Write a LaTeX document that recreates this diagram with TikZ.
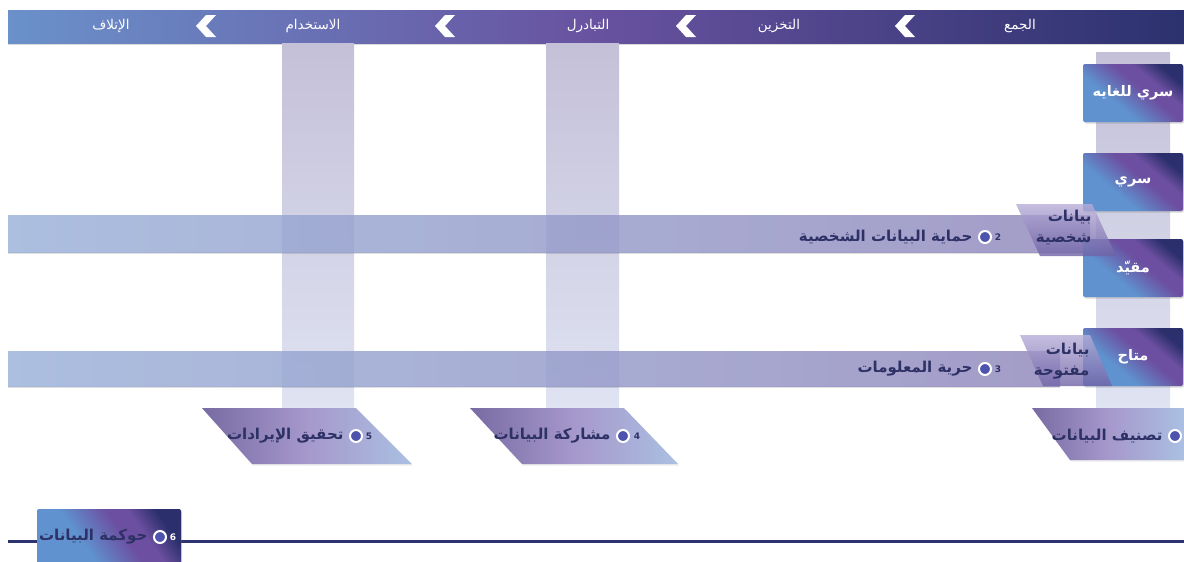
\documentclass[tikz,border=0pt]{standalone}
\usepackage{fontspec}
\newfontfamily\arabicfont[Script=Arabic]{DejaVu Sans}
\newfontfamily\numfont{DejaVu Sans}
\TeXXeTstate=1
\usetikzlibrary{shadows}
\definecolor{navy}{HTML}{2D3270}
\definecolor{txtnavy}{HTML}{2E3166}
\definecolor{barblue}{HTML}{6A91CA}
\definecolor{barpurple}{HTML}{6852A0}
\definecolor{barnavy}{HTML}{2C326E}
\definecolor{bxblue}{HTML}{5F92CE}
\definecolor{bxpurple}{HTML}{6C4FA0}
\definecolor{bxnavy}{HTML}{2B2F6C}
\definecolor{vtop}{HTML}{C4C0D8}
\definecolor{vbot}{HTML}{DFE3F2}
\definecolor{hleft}{HTML}{98AFD8}
\definecolor{hright}{HTML}{8D84BA}
\definecolor{pdark}{HTML}{776BA3}
\definecolor{pmid}{HTML}{A698CB}
\definecolor{plight}{HTML}{AAC0E2}
\definecolor{dotfill}{HTML}{4E54AE}
\definecolor{bdtop}{HTML}{B7AED8}
\definecolor{bdbot}{HTML}{6F62A6}
\pgfdeclarehorizontalshading{barshade}{100bp}{color(0bp)=(barblue); color(25bp)=(barblue); color(50bp)=(barpurple); color(75bp)=(barnavy); color(100bp)=(barnavy)}
\pgfdeclarehorizontalshading{boxshade}{100bp}{color(0bp)=(bxblue); color(25bp)=(bxblue); color(38bp)=(bxblue); color(56bp)=(bxpurple); color(64bp)=(bxpurple); color(75bp)=(bxnavy); color(100bp)=(bxnavy)}
\pgfdeclarehorizontalshading{parashade}{100bp}{color(0bp)=(pdark); color(25bp)=(pdark); color(50bp)=(pmid); color(75bp)=(plight); color(100bp)=(plight)}
\tikzset{
  bartext/.style={text=white, font=\arabicfont\fontsize{13.5}{15}\selectfont},
  chev/.style={fill=white, draw=none},
  vband/.style={top color=vtop, bottom color=vbot, draw=none},
  hband/.style={left color=hleft, right color=hright, draw=none, fill opacity=0.8},
  levelbox/.style={shading=boxshade, shading angle=50, rounded corners=2pt, minimum width=100pt, minimum height=58pt, text=white, font=\arabicfont\bfseries\fontsize{14.5}{16}\selectfont, drop shadow={opacity=0.3, shadow xshift=1pt, shadow yshift=-1.5pt}},
  para/.style={shading=parashade, draw=none, drop shadow={opacity=0.15, shadow xshift=1pt, shadow yshift=-1.5pt}},
  dpara/.style={top color=bdtop, bottom color=bdbot, draw=none, fill opacity=0.8},
  label/.style={text=txtnavy, font=\arabicfont\bfseries\fontsize{15}{17}\selectfont},
  dtext/.style={text=txtnavy, font=\arabicfont\bfseries\fontsize{15}{21}\selectfont, align=right},
  dot/.style={circle, draw=white, line width=2pt, fill=dotfill, minimum size=12pt, inner sep=0pt},
  num/.style={text=txtnavy, font=\numfont\bfseries\fontsize{9}{10}\selectfont, inner sep=0pt}
}
\begin{document}
\begin{tikzpicture}[x=1pt,y=-1pt]
\useasboundingbox[fill=white] (0,0) rectangle (1184,562);
% top bar
\fill[black,opacity=0.15] (8,43) rectangle (1184,45);
\path[shading=barshade] (8,10) rectangle (1184,43);
\node[bartext] (t1) at (1020,26) {\beginR الجمع\endR};
\node[bartext] (t2) at (779,26) {\beginR التخزين\endR};
\node[bartext] (t3) at (588,26) {\beginR التبادرل\endR};
\node[bartext] (t4) at (313,26) {\beginR الاستخدام\endR};
\node[bartext] (t5) at (111,26) {\beginR الإتلاف\endR};
\foreach \cx in {203,442,683,902}{
  \fill[chev] (\cx+3,15) -- (\cx+13,15) -- (\cx+3,26) -- (\cx+13,37) -- (\cx+3,37) -- (\cx-7,26) -- cycle;
}
% vertical bands
\path[vband] (282,43) rectangle (354,408);
\path[vband] (546,43) rectangle (619,408);
\path[vband] (1096,52) rectangle (1170,408);
% horizontal bands
\fill[black,opacity=0.12] (8,252) rectangle (1090,254);
\fill[black,opacity=0.12] (8,386) rectangle (1060,388);
\path[hband] (8,215) rectangle (1090,252);
\path[hband] (8,351) rectangle (1060,386);
% level boxes
\node[levelbox] (b1) at (1133,93) {\beginR سري للغايه\endR};
\node[levelbox] (b2) at (1133,182) {\beginR سري\endR};
\node[levelbox] (b3) at (1133,268) {\beginR مقيّد\endR};
\node[levelbox] (b4) at (1133,357) {\beginR متاح\endR};
% data parallelograms
\path[dpara] (1016,204) -- (1092,204) -- (1116,256) -- (1040,256) -- cycle;
\node[dtext, anchor=east] (pd) at (1095,228) {\beginR بيانات\endR\\\beginR شخصية\endR};
\path[dpara] (1020,335) -- (1090,335) -- (1112,386) -- (1043,386) -- cycle;
\node[dtext, anchor=east] (od) at (1093,361) {\beginR بيانات\endR\\\beginR مفتوحة\endR};
% band labels
\node[label, anchor=east] (l2) at (976,237) {\beginR حماية البيانات الشخصية\endR};
\node[dot] (d2) at (985,237) {};
\node[num] (n2) at (998,237) {2};
\node[label, anchor=east] (l3) at (976,369) {\beginR حرية المعلومات\endR};
\node[dot] (d3) at (985,369) {};
\node[num] (n3) at (998,369) {3};
% bottom parallelograms
\path[para] (202,408) -- (356,408) -- (412,464) -- (252,464) -- cycle;
\node[label, anchor=east] (l5) at (347,436) {\beginR تحقيق الإيرادات\endR};
\node[dot] (d5) at (356,436) {};
\node[num] (n5) at (369,436) {5};
\path[para] (470,408) -- (624,408) -- (678,464) -- (522,464) -- cycle;
\node[label, anchor=east] (l4) at (614,436) {\beginR مشاركة البيانات\endR};
\node[dot] (d4) at (623,436) {};
\node[num] (n4) at (637,436) {4};
\path[para] (1032,408) -- (1184,408) -- (1184,460) -- (1070,460) -- cycle;
\node[label, anchor=east] (l1) at (1166,436) {\beginR تصنيف البيانات\endR};
\node[dot] (d1) at (1175,436) {};
% governance
\draw[navy, line width=3pt] (8,541) -- (1184,541);
\path[shading=boxshade, shading angle=35, rounded corners=2pt, drop shadow={opacity=0.3, shadow xshift=1pt, shadow yshift=-1.5pt}] (37,562) -- (37,509) -- (181,509) -- (181,562);
\node[label, anchor=east] (l6) at (151,537) {\beginR حوكمة البيانات\endR};
\node[dot] (d6) at (160,537) {};
\node[num, text=white] (n6) at (173,537) {6};
\end{tikzpicture}
\end{document}
